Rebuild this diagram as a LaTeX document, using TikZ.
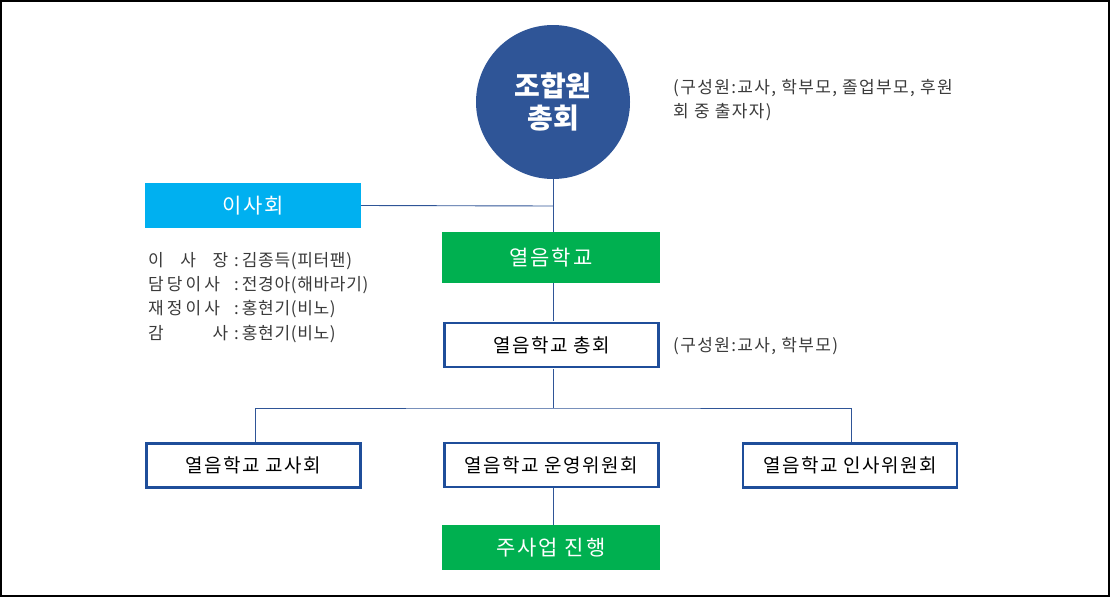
\documentclass[tikz,border=0pt]{standalone}
\usepackage{fontspec}
\setmainfont{Noto Sans CJK KR}
\definecolor{navy}{HTML}{2F5597}
\definecolor{skyc}{HTML}{00B0F0}
\definecolor{grn}{HTML}{00B050}
\definecolor{bdr}{HTML}{1F4E9A}
\definecolor{txt}{HTML}{3A3A3A}
\newcommand{\lbl}[2][l]{\makebox[80pt][#1]{\addfontfeature{LetterSpace=18}#2}\hspace{6pt}:\hspace{3pt}}
\begin{document}
\begin{tikzpicture}[x=1pt,y=-1pt,
  conn/.style={draw=navy,line width=0.9pt},
  fillbox/.style={draw=none,minimum height=#1,text=white,font=\fontsize{21}{24}\selectfont\addfontfeature{LetterSpace=9}},
  outbox/.style={draw=bdr,line width=2.6pt,fill=white,minimum width=214pt,minimum height=44pt,font=\fontsize{19}{22}\selectfont\addfontfeature{LetterSpace=8},text=black},
  note/.style={anchor=west,text=txt,font=\fontsize{17}{24}\selectfont\addfontfeature{LetterSpace=8},align=left,inner sep=0pt}]
\useasboundingbox (0,0) rectangle (1110,597);
\draw[line width=2pt] (1,1) rectangle (1109,596);
% nodes
\node[circle,fill=navy,minimum size=154pt,inner sep=0pt,text=white,align=center,font=\fontsize{28}{32}\selectfont\bfseries] (gen) at (553,102) {조합원\\총회};
\node[note,anchor=north west] (gennote) at (673,79) {(구성원:교사, 학부모, 졸업부모, 후원\\회 중 출자자)};
\node[fillbox=45pt,fill=skyc,minimum width=216pt] (board) at (253,205.5) {이사회};
\node[fillbox=51pt,fill=grn,minimum width=218pt] (school) at (551,257.5) {열음학교};
\node[note,anchor=north west,font=\fontsize{17}{24.3}\selectfont\addfontfeature{LetterSpace=4}] (members) at (148,252) {\lbl[s]{이\hfill 사\hfill 장}김종득(피터팬)\\\lbl{담당이사}전경아(해바라기)\\\lbl{재정이사}홍현기(비노)\\\lbl[s]{감\hfill 사}홍현기(비노)};
\node[outbox] (assembly) at (551.5,345) {열음학교 총회};
\node[note] (asnote) at (673,346) {(구성원:교사, 학부모)};
\node[outbox] (teach) at (253.5,465.5) {열음학교 교사회};
\node[outbox] (oper) at (551.5,465) {열음학교 운영위원회};
\node[outbox] (pers) at (850,465.5) {열음학교 인사위원회};
\node[fillbox=45pt,fill=grn,minimum width=218pt] (proj) at (551,547.5) {주사업 진행};
% connectors
\coordinate (j1) at (553,206);
\coordinate (j2) at (553,408);
\draw[conn] (gen.south) -- (gen.south |- school.north);
\draw[conn] (board.east) -- (j1);
\draw[conn] (553,283) -- (553,321);
\draw[conn] (553,369) -- (j2);
\draw[conn] (teach.north -| 255,0) |- (j2) -| (pers.north -| 851,0);
\draw[conn] (553,488) -- (553,525);
\end{tikzpicture}
\end{document}
